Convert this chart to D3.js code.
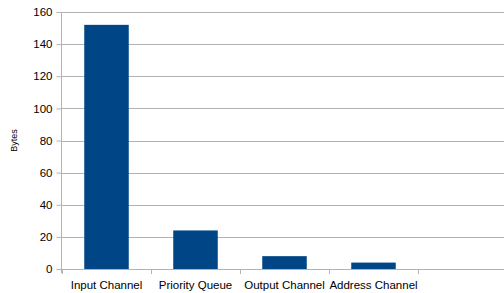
<!DOCTYPE html>
<html>
<head>
<meta charset="utf-8">
<script src="https://cdn.jsdelivr.net/npm/d3@7"></script>
<style>
  body { margin: 0; background: #fff; }
  text { font-family: "Liberation Sans", Arial, sans-serif; fill: #000; }
</style>
</head>
<body>
<div id="chart"></div>
<script>
const categories = ['Input Channel', 'Priority Queue', 'Output Channel', 'Address Channel', ''];
const bytes = [152, 24, 8, 4, null];
const yTicks = [0, 20, 40, 60, 80, 100, 120, 140, 160];

const width = 504;
const height = 293;
const margin = { top: 12, right: -3, bottom: 24, left: 62 };
const plotW = width - margin.left - margin.right;
const plotH = height - margin.top - margin.bottom;

const svg = d3.select('#chart').append('svg')
  .attr('width', width)
  .attr('height', height);

const g = svg.append('g')
  .attr('transform', `translate(${margin.left}, ${margin.top})`);

const x = d3.scaleBand().domain(categories.map((c, i) => i)).range([0, plotW]);
const y = d3.scaleLinear().domain([0, 160]).range([plotH, 0]);

// grid lines
g.selectAll('.grid')
  .data(yTicks)
  .enter()
  .append('line')
  .attr('x1', 0)
  .attr('x2', plotW)
  .attr('y1', d => Math.round(y(d)) + 0.5)
  .attr('y2', d => Math.round(y(d)) + 0.5)
  .attr('stroke', '#b3b3b3');

// bars
g.selectAll('.bar')
  .data(bytes.map((v, i) => ({ i, v })).filter(d => d.v !== null))
  .enter()
  .append('rect')
  .attr('x', d => x(d.i) + x.bandwidth() * 0.25)
  .attr('width', x.bandwidth() * 0.5)
  .attr('y', d => y(d.v))
  .attr('height', d => plotH - y(d.v))
  .attr('fill', '#004586');

// y axis
const yAxis = d3.axisLeft(y).tickValues(yTicks).tickSize(5).tickPadding(4);
const ya = g.append('g').attr('transform', 'translate(-0.5, 0)').call(yAxis);
ya.select('.domain').attr('d', `M0,0V${plotH + 4}`).attr('stroke', '#b3b3b3');
ya.selectAll('.tick line').attr('stroke', '#b3b3b3');
ya.selectAll('text').style('font-size', '11.5px').attr('fill', '#000');

// x axis
const xa = g.append('g').attr('transform', `translate(0, ${plotH})`);
xa.selectAll('.xtick')
  .data(d3.range(categories.length + 1))
  .enter()
  .append('line')
  .attr('x1', i => Math.round(i * x.bandwidth()) + 0.5)
  .attr('x2', i => Math.round(i * x.bandwidth()) + 0.5)
  .attr('y1', 0)
  .attr('y2', 5)
  .attr('stroke', '#b3b3b3');
xa.selectAll('.xlabel')
  .data(categories)
  .enter()
  .append('text')
  .attr('x', (d, i) => x(i) + x.bandwidth() / 2)
  .attr('y', 20)
  .attr('text-anchor', 'middle')
  .style('font-size', '11.5px')
  .text(d => d);

// y title
svg.append('text')
  .attr('transform', `translate(17, ${margin.top + plotH / 2}) rotate(-90)`)
  .attr('text-anchor', 'middle')
  .style('font-size', '9px')
  .text('Bytes');
</script>
</body>
</html>
